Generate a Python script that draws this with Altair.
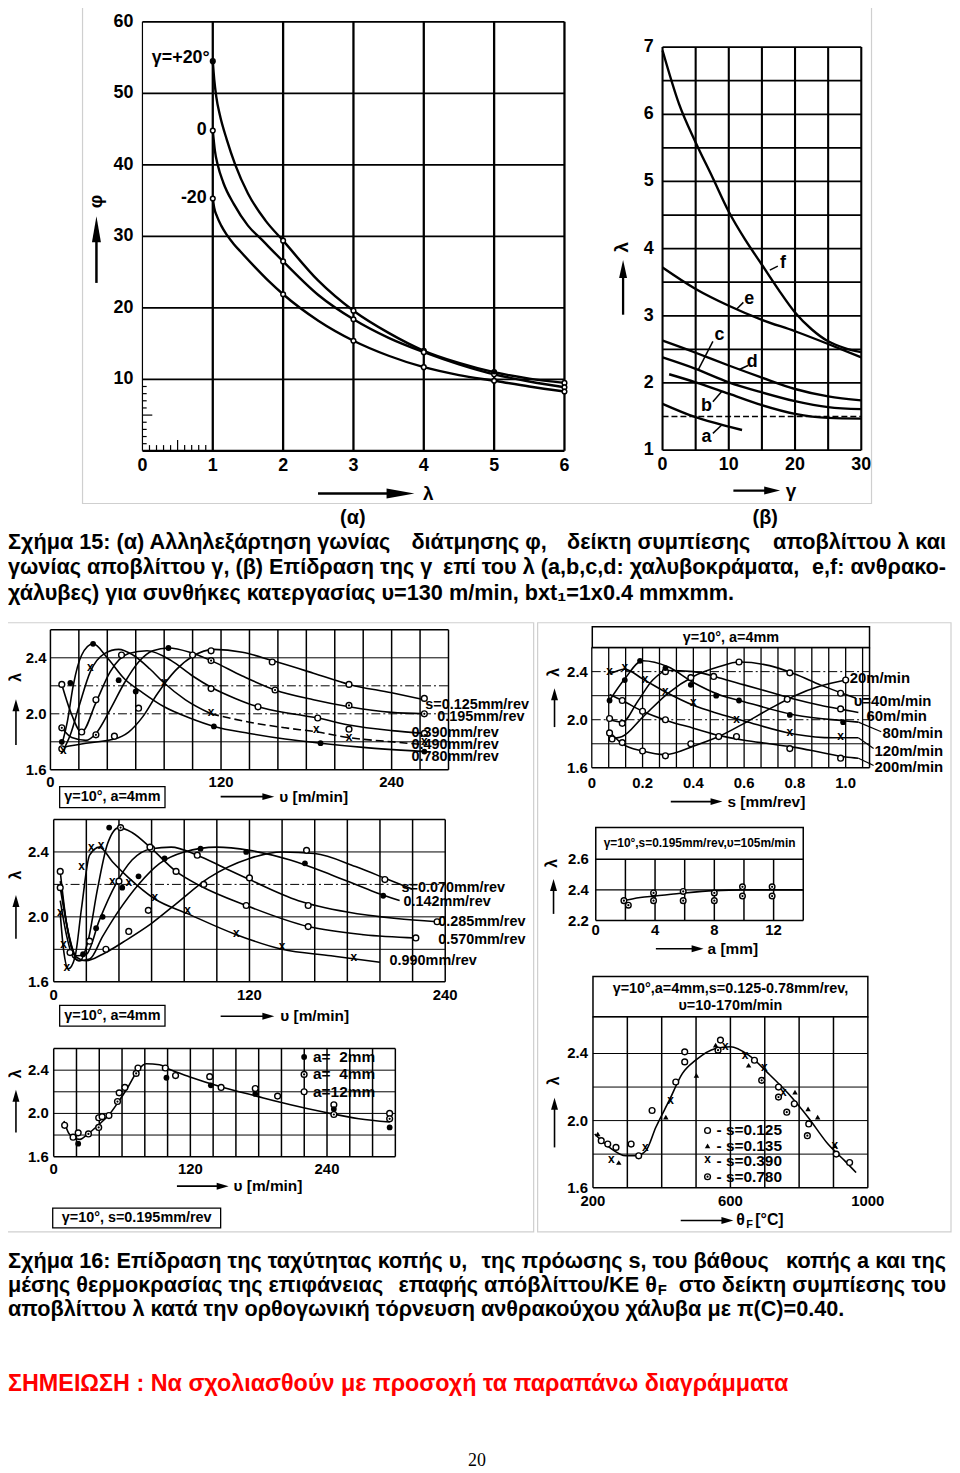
import altair as alt
import pandas as pd

# ===================== DATA =====================
# Fig.15 (α): shear angle φ vs chip compression λ for rake angle γ
A_LAM_P20 = [1.0, 1.02, 1.05, 1.1, 1.2, 1.32, 1.5, 1.75, 2.0, 2.5, 3.0, 3.5, 4.0, 4.5, 5.0, 5.5, 6.0]
A_PHI_P20 = [54.5, 52.0, 49.5, 47.0, 43.5, 40.0, 36.0, 32.2, 29.4, 23.8, 19.6, 16.5, 14.0, 12.3, 11.0, 10.1, 9.5]
A_LAM_0 = [1.0, 1.03, 1.07, 1.15, 1.3, 1.5, 1.7, 2.0, 2.5, 3.0, 3.5, 4.0, 4.5, 5.0, 5.5, 6.0]
A_PHI_0 = [44.8, 42.0, 40.0, 37.5, 34.5, 31.5, 29.5, 26.5, 21.8, 18.4, 15.8, 13.8, 12.1, 10.7, 9.7, 8.9]
A_LAM_M20 = [1.0, 1.02, 1.06, 1.12, 1.2, 1.3, 1.41, 1.6, 1.8, 2.0, 2.5, 3.0, 3.5, 4.0, 4.5, 5.0, 5.5, 6.0]
A_PHI_M20 = [35.3, 34.0, 32.8, 31.5, 30.2, 28.9, 27.7, 25.7, 23.7, 21.9, 18.2, 15.4, 13.3, 11.7, 10.6, 9.8, 9.0, 8.3]
A_MARK_LAM = [1, 2, 3, 4, 5, 6]
A_MARK_P20 = [54.5, 29.4, 19.6, 14.0, 11.0, 9.5]
A_MARK_0 = [44.8, 26.5, 18.4, 13.8, 10.7, 8.9]
A_MARK_M20 = [35.3, 21.9, 15.4, 11.7, 9.8, 8.3]
A_X_TICKS = [0, 1, 2, 3, 4, 5, 6]
A_Y_TICKS = [10, 20, 30, 40, 50, 60]

# Fig.15 (β): λ vs γ for materials a..f
B_GAM = [0, 5, 10, 15, 20, 25, 30]
B_F_GAM = [0, 2.5, 5, 7.5, 10, 12.5, 15, 17.5, 20, 22.5, 25, 27.5, 30]
B_F = [6.95, 6.15, 5.58, 5.07, 4.55, 4.13, 3.76, 3.39, 3.05, 2.80, 2.62, 2.52, 2.46]
B_E = [3.72, 3.40, 3.15, 2.94, 2.77, 2.58, 2.38]
B_D = [2.63, 2.45, 2.26, 2.08, 1.91, 1.80, 1.74]
B_C = [2.38, 2.21, 2.01, 1.86, 1.73, 1.64, 1.61]
B_B_GAM = [1, 5, 10, 15, 20, 25, 30]
B_B = [2.13, 2.01, 1.84, 1.67, 1.54, 1.48, 1.47]
B_A_GAM = [0, 5, 10, 12]
B_A = [1.69, 1.49, 1.35, 1.30]
B_X_TICKS = [0, 10, 20, 30]
B_Y_TICKS = [1, 2, 3, 4, 5, 6, 7]

# Fig.16 panel 1: λ vs υ for feeds s
P1_V125 = [8, 25, 45, 55, 65, 75, 88, 100, 115, 135, 156, 185, 210, 240, 263]
P1_L125 = [1.76, 1.79, 1.82, 1.87, 1.98, 2.14, 2.31, 2.41, 2.46, 2.44, 2.38, 2.29, 2.21, 2.15, 2.10]
P1_V195 = [8, 15, 25, 32, 42, 52, 62, 72, 83, 98, 113, 135, 158, 185, 210, 240, 263]
P1_L195 = [1.90, 1.83, 1.81, 1.86, 2.03, 2.22, 2.37, 2.45, 2.47, 2.44, 2.38, 2.27, 2.17, 2.10, 2.05, 2.01, 2.00]
P1_V390 = [8, 14, 22, 32, 42, 55, 68, 85, 100, 113, 130, 146, 170, 188, 210, 240, 263]
P1_L390 = [2.21, 2.02, 1.87, 2.08, 2.30, 2.43, 2.45, 2.38, 2.27, 2.19, 2.11, 2.05, 2.00, 1.97, 1.92, 1.88, 1.86]
P1_V490 = [8, 14, 20, 28, 38, 48, 58, 70, 80, 95, 113, 140, 165, 188, 210, 240, 263]
P1_L490 = [1.72, 1.85, 2.05, 2.30, 2.43, 2.46, 2.42, 2.32, 2.22, 2.10, 2.00, 1.94, 1.90, 1.87, 1.83, 1.80, 1.78]
P1_V780 = [8, 12, 16, 22, 30, 40, 52, 65, 80, 98, 115, 140, 165, 190, 220, 263]
P1_L780 = [1.78, 1.95, 2.20, 2.42, 2.50, 2.40, 2.25, 2.15, 2.05, 1.97, 1.91, 1.86, 1.82, 1.79, 1.76, 1.73]
P1_OPEN_V = [8, 45, 62, 100, 113, 156, 210, 263, 8, 22, 32, 50, 113, 146, 188, 210, 263]
P1_OPEN_L = [1.75, 1.84, 2.04, 2.42, 2.45, 2.37, 2.21, 2.11, 2.21, 1.87, 2.10, 2.42, 2.18, 2.05, 1.97, 1.89, 1.86]
P1_DOT_V = [8, 32, 113, 158, 210, 263]
P1_DOT_L = [1.90, 1.85, 2.38, 2.17, 2.06, 2.00]
P1_FILL_V = [8, 14, 30, 48, 60, 83, 115, 190, 263]
P1_FILL_L = [1.80, 2.22, 2.50, 2.24, 2.16, 2.47, 1.91, 1.79, 1.73]
P1_X_V = [9, 28, 80, 113, 187, 210, 263]
P1_X_L = [1.73, 2.32, 2.21, 2.00, 1.88, 1.82, 1.79]

# Fig.16 panel 2: λ vs s for cutting speeds υ
P2_S20 = [0.07, 0.12, 0.2, 0.29, 0.4, 0.5, 0.6, 0.7, 0.8, 0.9, 1.0]
P2_L20 = [1.90, 1.80, 1.74, 1.71, 1.78, 1.86, 1.97, 2.09, 2.20, 2.28, 2.33]
P2_S40 = [0.07, 0.12, 0.2, 0.3, 0.4, 0.5, 0.58, 0.7, 0.8, 0.9, 1.0, 1.04]
P2_L40 = [1.84, 1.86, 2.02, 2.22, 2.36, 2.44, 2.48, 2.45, 2.38, 2.29, 2.21, 2.18]
P2_S60 = [0.07, 0.12, 0.18, 0.24, 0.3, 0.4, 0.5, 0.6, 0.7, 0.8, 0.9, 1.0, 1.05]
P2_L60 = [2.00, 1.98, 2.15, 2.33, 2.41, 2.40, 2.35, 2.29, 2.23, 2.17, 2.12, 2.08, 2.06]
P2_S80 = [0.07, 0.13, 0.2, 0.3, 0.4, 0.5, 0.6, 0.8, 1.0, 1.05]
P2_L80 = [2.16, 2.34, 2.49, 2.44, 2.31, 2.21, 2.15, 2.04, 1.99, 1.98]
P2_S120 = [0.07, 0.13, 0.2, 0.3, 0.4, 0.5, 0.6, 0.8, 0.95, 1.05]
P2_L120 = [2.38, 2.42, 2.34, 2.22, 2.12, 2.05, 1.99, 1.88, 1.85, 1.85]
P2_S200 = [0.07, 0.12, 0.2, 0.3, 0.4, 0.5, 0.6, 0.7, 0.8, 0.9, 1.0, 1.05]
P2_L200 = [2.21, 2.16, 2.07, 1.99, 1.93, 1.87, 1.83, 1.80, 1.77, 1.73, 1.69, 1.68]
P2_OPEN_S = [0.07, 0.12, 0.2, 0.29, 0.39, 0.5, 1.0, 0.08, 0.39, 0.58, 0.78, 0.98, 0.07, 0.12, 0.29, 0.48, 0.77,
             0.98, 0.12, 0.2, 0.29, 0.57, 0.78, 0.98]
P2_OPEN_L = [1.89, 1.81, 1.74, 1.70, 1.80, 1.86, 2.33, 1.84, 2.35, 2.48, 2.39, 2.22, 2.01, 1.97, 2.40, 2.36, 2.17,
             2.09, 2.16, 2.07, 2.00, 1.86, 1.76, 1.68]
P2_FILL_S = [0.07, 0.13, 0.19, 0.29, 0.39, 0.49, 0.58, 0.78, 0.99]
P2_FILL_L = [2.16, 2.33, 2.49, 2.43, 2.29, 2.20, 2.16, 2.04, 1.98]
P2_X_S = [0.07, 0.13, 0.21, 0.29, 0.4, 0.57, 0.78, 0.98]
P2_X_L = [2.39, 2.42, 2.32, 2.22, 2.13, 1.99, 1.88, 1.85]

# Fig.16 panel 3: λ vs υ for feeds s
P3_V070 = [4, 8, 13, 20, 30, 45, 60, 75, 95, 120, 140, 160, 185, 205, 220]
P3_L070 = [2.28, 1.95, 1.76, 1.73, 1.77, 1.86, 1.96, 2.08, 2.24, 2.36, 2.40, 2.39, 2.31, 2.23, 2.17]
P3_V142 = [4, 9, 15, 22, 30, 40, 52, 65, 80, 100, 120, 145, 170, 195, 212]
P3_L142 = [2.22, 1.90, 1.73, 1.74, 1.88, 2.04, 2.20, 2.33, 2.40, 2.43, 2.41, 2.35, 2.26, 2.16, 2.10]
P3_V285 = [4, 8, 14, 20, 28, 38, 48, 60, 72, 88, 105, 120, 150, 180, 210, 235]
P3_L285 = [2.18, 1.95, 1.76, 1.77, 1.98, 2.20, 2.35, 2.42, 2.43, 2.38, 2.30, 2.23, 2.10, 2.03, 1.99, 1.97]
P3_V570 = [4, 8, 12, 16, 21, 27, 33, 40, 48, 60, 75, 90, 118, 156, 190, 222]
P3_L570 = [2.10, 1.88, 1.75, 1.73, 1.85, 2.18, 2.45, 2.55, 2.52, 2.42, 2.28, 2.19, 2.07, 1.94, 1.89, 1.87]
P3_V990 = [4, 6, 9, 13, 17, 22, 28, 36, 46, 62, 82, 112, 140, 170, 200]
P3_L990 = [2.02, 1.80, 1.68, 1.75, 2.05, 2.38, 2.43, 2.34, 2.24, 2.11, 2.02, 1.89, 1.80, 1.76, 1.72]
P3_OPEN_V = [4, 10, 32, 46, 58, 155, 203, 4, 22, 40, 60, 88, 120, 156, 235, 59, 75, 92, 118, 156, 222]
P3_OPEN_L = [2.28, 1.78, 1.80, 1.91, 2.04, 2.41, 2.23, 2.18, 1.85, 2.22, 2.42, 2.38, 2.24, 2.07, 1.97, 2.43, 2.28,
             2.20, 2.07, 1.94, 1.87]
P3_FILL_V = [18, 26, 30, 42, 52, 68, 90, 118, 154, 202, 34]
P3_FILL_L = [1.77, 1.93, 2.00, 2.18, 2.25, 2.36, 2.42, 2.40, 2.33, 2.13, 2.55]
P3_X_V = [4, 6, 8, 17, 23, 29, 36, 46, 62, 82, 112, 140, 184]
P3_X_L = [2.02, 1.82, 1.68, 2.30, 2.42, 2.43, 2.21, 2.20, 2.11, 2.03, 1.89, 1.81, 1.74]

# Fig.16 panel 4: λ vs depth of cut a
P4_CA = [1.7, 3, 4, 6, 8, 10, 12, 14]
P4_CL = [2.325, 2.35, 2.36, 2.38, 2.395, 2.40, 2.40, 2.40]
P4_A = [1.9, 2.2, 3.9, 3.9, 5.9, 5.9, 8.0, 8.0, 9.9, 9.9, 11.9, 11.9]
P4_L = [2.33, 2.30, 2.38, 2.33, 2.39, 2.33, 2.38, 2.33, 2.42, 2.36, 2.42, 2.36]

# Fig.16 panel 5: λ vs υ for depths a
P5_V = [9, 13, 18, 23, 30, 40, 48, 57, 65, 74, 81, 93, 101, 119, 149, 178, 208, 238, 268, 295]
P5_L = [1.93, 1.82, 1.77, 1.76, 1.81, 1.90, 1.98, 2.11, 2.24, 2.40, 2.46, 2.45, 2.41, 2.34, 2.24, 2.16, 2.08, 2.01,
        1.95, 1.92]
P5_A2_V = [21.5, 99, 138, 177, 246, 295]
P5_A2_L = [1.72, 2.33, 2.26, 2.18, 2.04, 1.87]
P5_A4_V = [30.5, 39.5, 56, 72.4, 246, 295]
P5_A4_L = [1.81, 1.87, 2.11, 2.37, 1.99, 1.95]
P5_A12_V = [9.6, 17, 21.5, 39.5, 42.5, 48.5, 57.5, 62.5, 74, 98, 107, 137, 147, 177, 196.6, 246, 295]
P5_A12_L = [1.89, 1.78, 1.82, 1.96, 1.97, 1.98, 2.19, 2.24, 2.42, 2.42, 2.35, 2.34, 2.24, 2.23, 2.16, 2.08, 2.00]

# Fig.16 panel 6: λ vs mean interface temperature θF
P6_T = [205, 248, 296, 325, 354, 383, 422, 460, 499, 557, 600, 653, 711, 769, 826, 884, 933, 966]
P6_L = [1.92, 1.84, 1.79, 1.79, 1.82, 1.96, 2.12, 2.28, 2.36, 2.43, 2.44, 2.39, 2.28, 2.16, 2.02, 1.86, 1.76, 1.69]
P6_S125_T = [224, 243, 267, 311, 333, 372, 441, 467, 467, 571, 670, 740, 786, 828, 908, 947]
P6_S125_L = [1.88, 1.86, 1.84, 1.86, 1.79, 2.06, 2.23, 2.41, 2.35, 2.48, 2.36, 2.20, 2.10, 1.98, 1.80, 1.75]
P6_S135_T = [214, 275, 412, 501, 557, 653, 788, 826, 854, 904]
P6_S135_L = [1.92, 1.75, 2.02, 2.27, 2.45, 2.33, 2.17, 2.07, 2.02, 1.85]
P6_S390_T = [253, 352, 426, 585, 643, 699, 754, 904]
P6_S390_L = [1.76, 1.83, 2.11, 2.43, 2.38, 2.31, 2.16, 1.84]
P6_S780_T = [564, 691, 740, 764, 824]
P6_S780_L = [2.42, 2.24, 2.14, 2.05, 1.91]

# ===================== helpers =====================
FONT = "Liberation Sans"
M = 8
layers = []


def panel(x0, x1, px0, px1, y0, y1, py0, py1):
    return dict(xs=alt.Scale(domain=[x0, x1], range=[px0 - M, px1 - M], nice=False, zero=False),
                ys=alt.Scale(domain=[y0, y1], range=[py0 - M, py1 - M], nice=False, zero=False))


def XY(P):
    return dict(x=alt.X("x:Q", scale=P["xs"], axis=None), y=alt.Y("y:Q", scale=P["ys"], axis=None))


def curve(P, xs, ys, w=1.6, dash=None):
    df = pd.DataFrame({"x": xs, "y": ys, "o": list(range(len(xs)))})
    kw = dict(color="black", strokeWidth=w, interpolate="monotone")
    if dash:
        kw["strokeDash"] = dash
    layers.append(alt.Chart(df).mark_line(**kw).encode(order="o:Q", **XY(P)))


def vgrid(P, xs, y0, y1, w=1.2, dash=None, color="black"):
    xs = list(xs)
    df = pd.DataFrame({"x": xs, "y": [y0] * len(xs), "y2": [y1] * len(xs)})
    kw = dict(color=color, strokeWidth=w)
    if dash:
        kw["strokeDash"] = dash
    layers.append(alt.Chart(df).mark_rule(**kw).encode(y2="y2:Q", **XY(P)))


def hgrid(P, ys, x0, x1, w=1.0, dash=None, color="black"):
    ys = list(ys)
    df = pd.DataFrame({"y": ys, "x": [x0] * len(ys), "x2": [x1] * len(ys)})
    kw = dict(color=color, strokeWidth=w)
    if dash:
        kw["strokeDash"] = dash
    layers.append(alt.Chart(df).mark_rule(**kw).encode(x2="x2:Q", **XY(P)))


def segs(P, rows, w=1.2, color="black"):
    df = pd.DataFrame(rows, columns=["x", "y", "x2", "y2"])
    layers.append(alt.Chart(df).mark_rule(color=color, strokeWidth=w).encode(x2="x2:Q", y2="y2:Q", **XY(P)))


def rects(P, rows, stroke="black", w=1.4, fill="white", fop=1.0):
    df = pd.DataFrame(rows, columns=["x", "y", "x2", "y2"])
    layers.append(alt.Chart(df).mark_rect(fill=fill, fillOpacity=fop, stroke=stroke, strokeWidth=w)
                  .encode(x2="x2:Q", y2="y2:Q", **XY(P)))


def pts(P, xs, ys, kind, size=34, sw=1.4):
    base = alt.Chart(pd.DataFrame({"x": xs, "y": ys}))
    if kind in ("open", "dot"):
        layers.append(base.mark_point(shape="circle", filled=True, fill="white", stroke="black",
                                      strokeWidth=sw, size=size, opacity=1).encode(**XY(P)))
        if kind == "dot":
            layers.append(base.mark_point(shape="circle", filled=True, color="black", size=5,
                                          opacity=1).encode(**XY(P)))
    elif kind == "filled":
        layers.append(base.mark_point(shape="circle", filled=True, color="black", size=size,
                                      opacity=1).encode(**XY(P)))
    elif kind == "tri":
        layers.append(base.mark_point(shape="triangle-up", filled=True, color="black", size=size,
                                      opacity=1).encode(**XY(P)))
    elif kind == "x":
        layers.append(base.mark_text(text="x", font=FONT, fontSize=12, fontWeight="bold", color="black",
                                     dy=-2).encode(**XY(P)))


def text(P, xs, ys, ts, size=15, align="center", dx=0, dy=0, angle=0, weight="bold",
         color="black", font=FONT):
    df = pd.DataFrame({"x": xs, "y": ys, "t": ts})
    kw = dict(font=font, fontSize=size, fontWeight=weight, align=align, baseline="middle",
              dx=dx, dy=dy, color=color)
    if angle:
        kw["angle"] = angle
    layers.append(alt.Chart(df).mark_text(**kw).encode(text="t:N", **XY(P)))


def ptext(rows, align="left", **kw):
    text(PAGE, [r[0] for r in rows], [r[1] for r in rows], [r[2] for r in rows], align=align, **kw)


def head(x, y, L, Wd, up):
    k = round(Wd / L, 3)
    path = f"M0,-1L{-k},1L{k},1Z" if up else f"M1,0L-1,{-k}L-1,{k}Z"
    df = pd.DataFrame({"x": [x], "y": [y]})
    layers.append(alt.Chart(df).mark_point(shape=path, filled=True, color="black", size=L * L,
                                           opacity=1).encode(**XY(PAGE)))


def arrow_up(x, ybot, ytip, L=12, Wd=7, w=1.6):
    segs(PAGE, [(x, ybot, x, ytip + L * 0.8)], w=w)
    head(x, ytip + L / 2, L, Wd, True)


def arrow_right(y, xl, xtip, L=12, Wd=7, w=1.6):
    segs(PAGE, [(xl, y, xtip - L * 0.8, y)], w=w)
    head(xtip - L / 2, y, L, Wd, False)


# ===================== panels (page pixel placement) =====================
PAGE = panel(0, 1000, 0, 1000, 0, 1000, 0, 1000)
PA = panel(0, 6, 143.3, 568, 0, 60, 449, 17.3)
PB = panel(0, 30, 666.7, 866.7, 1, 7, 448.3, 42.7)
P1 = panel(0, 280, 50.7, 451.3, 1.6, 2.6, 770, 629.1)
P2 = panel(0, 1.0, 595.5, 851, 1.6, 2.6, 768, 647)
P3 = panel(0, 240, 54, 448, 1.6, 2.6, 983.3, 820)
P4 = panel(0, 14, 599.5, 808.3, 2.2, 2.6, 921.7, 860)
P5 = panel(0, 300, 54, 397.8, 1.6, 2.6, 1159.3, 1050.5)
P6 = panel(200, 1000, 596.7, 873.3, 1.6, 2.4, 1190.5, 1055.5)

# scan frames
rects(PAGE, [(83, 1, 877, 502), (1, 622, 537, 1235), (541, 622, 957, 1235)], stroke="#cfcfcf", w=1.2, fop=0)

# ---------- Fig.15 (α) ----------
vgrid(PA, [1, 2, 3, 4, 5, 6], 0, 60, w=2.3)
vgrid(PA, [0], 0, 60, w=1.2)
hgrid(PA, [10, 20, 30, 40, 50, 60], 0, 6, w=1.8)
hgrid(PA, [0], 0, 6, w=2.3)
vgrid(PA, [0.1, 0.2, 0.3, 0.4, 0.6, 0.7, 0.8, 0.9], 0, 0.8, w=1.2)
vgrid(PA, [0.5], 0, 1.5, w=1.2)
hgrid(PA, [1, 2, 3, 4, 6, 7, 8, 9], 0, 0.06, w=1.2)
hgrid(PA, [5], 0, 0.14, w=1.2)
curve(PA, A_LAM_P20, A_PHI_P20, w=2.4)
curve(PA, A_LAM_0, A_PHI_0, w=2.4)
curve(PA, A_LAM_M20, A_PHI_M20, w=2.4)
pts(PA, A_MARK_LAM, A_MARK_P20, "open", size=22, sw=1.5)
pts(PA, A_MARK_LAM, A_MARK_0, "open", size=22, sw=1.5)
pts(PA, A_MARK_LAM, A_MARK_M20, "open", size=22, sw=1.5)
pts(PA, [1, 5], [54.5, 11.0], "filled", size=20)
text(PA, [0] * 6, A_Y_TICKS, [str(v) for v in A_Y_TICKS], size=18, align="right", dx=-9)
text(PA, A_X_TICKS, [0] * 7, [str(v) for v in A_X_TICKS], size=18, dy=15)
ptext([(211, 53.5, "γ=+20°"), (208, 126.5, "0"), (208, 195, "-20")], size=18, align="right")
ptext([(97, 198, "φ")], size=19, angle=270, align="center")
arrow_up(97, 280, 213, L=26, Wd=9, w=2.5)
ptext([(431, 492, "λ")], size=19, align="center")
arrow_right(492, 320, 417, L=28, Wd=10, w=2.5)

# ---------- Fig.15 (β) ----------
vgrid(PB, B_GAM, 1, 7, w=2.1)
hgrid(PB, [1, 2, 2.5, 3, 3.5, 4, 4.5, 5, 5.5, 6, 6.5, 7], 0, 30, w=1.8)
hgrid(PB, [1.5], 0, 30, w=1.6, dash=[6, 3])
curve(PB, B_F_GAM, B_F, w=2.4)
curve(PB, B_GAM, B_E, w=2.4)
curve(PB, B_GAM, B_D, w=2.4)
curve(PB, B_GAM, B_C, w=2.4)
curve(PB, B_B_GAM, B_B, w=2.4)
curve(PB, B_A_GAM, B_A, w=2.4)
segs(PB, [(17.4, 3.74, 16.2, 3.68), (12.2, 3.20, 11.2, 3.10), (7.6, 2.62, 5.4, 2.20),
          (12.9, 2.26, 11.6, 2.20), (7.6, 1.72, 8.9, 1.87), (7.6, 1.25, 8.9, 1.37)], w=1.5)
text(PB, [0] * 7, B_Y_TICKS, [str(v) for v in B_Y_TICKS], size=18, align="right", dx=-9)
text(PB, B_X_TICKS, [1] * 4, [str(v) for v in B_X_TICKS], size=18, dy=15)
ptext([(788, 260, "f"), (754, 296, "e"), (724, 332, "c"), (757, 360, "d"), (711, 404, "b"),
       (711, 435, "a")], size=18, align="center")
ptext([(626, 244, "λ")], size=19, angle=270, align="center")
arrow_up(627, 312, 257, L=18, Wd=8, w=2.3)
ptext([(796, 489, "γ")], size=19, align="center")
arrow_right(489, 738, 785, L=16, Wd=8, w=2.3)
ptext([(355, 517, "(α)"), (770, 517, "(β)")], size=20, align="center")

# ---------- Fig.16 panel 1 ----------
vgrid(P1, range(0, 281, 20), 1.6, 2.6, w=1.5)
hgrid(P1, [1.6, 2.6], 0, 280, w=1.5)
hgrid(P1, [1.8, 2.4], 0, 280, w=1.0)
hgrid(P1, [2.0, 2.2], 0, 280, w=1.0, dash=[9, 3, 2, 3])
curve(P1, P1_V125, P1_L125)
curve(P1, P1_V195, P1_L195)
curve(P1, P1_V390, P1_L390)
curve(P1, P1_V490[:11], P1_L490[:11])
curve(P1, P1_V490[10:], P1_L490[10:], dash=[8, 4])
curve(P1, P1_V780, P1_L780)
pts(P1, P1_OPEN_V, P1_OPEN_L, "open")
pts(P1, P1_DOT_V, P1_DOT_L, "dot")
pts(P1, P1_FILL_V, P1_FILL_L, "filled")
pts(P1, P1_X_V, P1_X_L, "x")
text(P1, [0] * 3, [1.6, 2.0, 2.4], ["1.6", "2.0", "2.4"], align="right", dx=-4)
text(P1, [0, 120, 240], [1.6] * 3, ["0", "120", "240"], dy=12)
ptext([(428, 705, "s=0.125mm/rev"), (440, 716.5, "0.195mm/rev"), (414, 733.3, "0.390mm/rev"),
       (414, 745, "0.490mm/rev"), (414, 757.5, "0.780mm/rev")], size=14.5)
rects(PAGE, [(60, 787, 166, 808)], w=1.3)
ptext([(113, 797.5, "γ=10°, a=4mm")], size=14.5, align="center")
ptext([(16, 677, "λ")], size=16, angle=270, align="center")
arrow_up(16, 745, 699)
arrow_right(797, 222, 276)
ptext([(281, 797, "υ [m/min]")], size=15.5)

# ---------- Fig.16 panel 2 ----------
vgrid(P2, [k / 15 for k in range(17)], 1.6, 2.6, w=1.3)
vgrid(P2, [1.094], 1.6, 2.6, w=1.5)
hgrid(P2, [1.6, 2.6], 0, 1.094, w=1.5)
hgrid(P2, [1.8, 2.2], 0, 1.094, w=1.0)
hgrid(P2, [2.0, 2.4], 0, 1.094, w=1.0, dash=[9, 3, 2, 3])
curve(P2, P2_S20, P2_L20)
curve(P2, P2_S40, P2_L40)
curve(P2, P2_S60, P2_L60)
curve(P2, P2_S80, P2_L80)
curve(P2, P2_S120, P2_L120)
curve(P2, P2_S200, P2_L200)
segs(P2, [(1.05, 1.98, 1.14, 1.90), (1.05, 1.85, 1.11, 1.76), (1.05, 1.68, 1.11, 1.62)], w=1.2)
pts(P2, P2_OPEN_S, P2_OPEN_L, "open")
pts(P2, P2_FILL_S, P2_FILL_L, "filled")
pts(P2, P2_X_S, P2_X_L, "x")
text(P2, [0] * 3, [1.6, 2.0, 2.4], ["1.6", "2.0", "2.4"], align="right", dx=-4)
text(P2, [0, 0.2, 0.4, 0.6, 0.8, 1.0], [1.6] * 6, ["0", "0.2", "0.4", "0.6", "0.8", "1.0"], dy=15)
ptext([(855, 678, "20m/min"), (859, 701, "υ=40m/min"), (872, 716, "60m/min"), (888, 733, "80m/min"),
       (880, 751, "120m/min"), (880, 767, "200m/min")], size=15)
rects(PAGE, [(596, 626, 875, 647)], w=1.5)
ptext([(735.5, 637, "γ=10°, a=4mm")], size=14.5, align="center")
ptext([(557, 672, "λ")], size=16, angle=270, align="center")
arrow_up(558, 727, 688)
arrow_right(802, 675, 727)
ptext([(732, 802, "s [mm/rev]")], size=15.5)

# ---------- Fig.16 panel 3 ----------
vgrid(P3, range(0, 241, 20), 1.6, 2.6, w=1.5)
hgrid(P3, [1.6, 2.6], 0, 240, w=1.5)
hgrid(P3, [1.8, 2.0, 2.4], 0, 240, w=1.0)
hgrid(P3, [2.2], 0, 240, w=1.0, dash=[9, 3, 2, 3])
curve(P3, P3_V070, P3_L070)
curve(P3, P3_V142, P3_L142)
curve(P3, P3_V285, P3_L285)
curve(P3, P3_V570, P3_L570)
curve(P3, P3_V990, P3_L990)
pts(P3, P3_OPEN_V, P3_OPEN_L, "open")
pts(P3, P3_FILL_V, P3_FILL_L, "filled")
pts(P3, [41], [2.55], "dot")
pts(P3, P3_X_V, P3_X_L, "x")
text(P3, [0] * 3, [1.6, 2.0, 2.4], ["1.6", "2.0", "2.4"], align="right", dx=-5)
text(P3, [0, 120, 240], [1.6] * 3, ["0", "120", "240"], dy=13)
ptext([(404, 889, "s=0.070mm/rev"), (406, 903.5, "0.142mm/rev"), (441, 923, "0.285mm/rev"),
       (441, 941, "0.570mm/rev"), (392, 962, "0.990mm/rev")], size=14.5)
rects(PAGE, [(60, 1007, 166, 1028)], w=1.3)
ptext([(113, 1017.5, "γ=10°, a=4mm")], size=14.5, align="center")
ptext([(16, 876, "λ")], size=16, angle=270, align="center")
arrow_up(16, 940, 896)
arrow_right(1018, 222, 276)
ptext([(282, 1018, "υ [m/min]")], size=15.5)

# ---------- Fig.16 panel 4 ----------
vgrid(P4, range(0, 15, 2), 2.2, 2.6, w=1.5)
hgrid(P4, [2.2, 2.6], 0, 14, w=1.5)
hgrid(P4, [2.4], 0, 14, w=1.2)
curve(P4, P4_CA, P4_CL)
pts(P4, P4_A, P4_L, "dot", size=32)
text(P4, [0] * 3, [2.2, 2.4, 2.6], ["2.2", "2.4", "2.6"], align="right", dx=-7)
text(P4, [0, 4, 8, 12], [2.2] * 4, ["0", "4", "8", "12"], dy=10)
rects(PAGE, [(599.5, 828, 808.3, 860)], w=1.5)
ptext([(704, 844, "γ=10°,s=0.195mm/rev,υ=105m/min")], size=12, align="center")
ptext([(555, 864, "λ")], size=16, angle=270, align="center")
arrow_up(557, 915, 880)
arrow_right(950, 660, 708)
ptext([(712, 950, "a [mm]")], size=15.5)

# ---------- Fig.16 panel 5 ----------
vgrid(P5, range(0, 301, 20), 1.6, 2.6, w=1.5)
hgrid(P5, [1.6, 2.6], 0, 300, w=1.5)
hgrid(P5, [1.8, 2.0, 2.2, 2.4], 0, 300, w=1.0)
curve(P5, P5_V, P5_L)
pts(P5, P5_A12_V, P5_A12_L, "open")
pts(P5, P5_A4_V, P5_A4_L, "dot")
pts(P5, P5_A2_V, P5_A2_L, "filled")
text(P5, [0] * 3, [1.6, 2.0, 2.4], ["1.6", "2.0", "2.4"], align="right", dx=-5)
text(P5, [0, 120, 240], [1.6] * 3, ["0", "120", "240"], dy=12)
pts(PAGE, [306], [1059], "filled")
pts(PAGE, [306], [1076.5], "dot")
pts(PAGE, [306], [1094], "open")
ptext([(315, 1059, "a=\u00a0\u00a02mm"), (315, 1076.5, "a=\u00a0\u00a04mm"), (315, 1094, "a=12mm")],
      size=15.5)
rects(PAGE, [(53, 1211, 222, 1231)], w=1.3)
ptext([(137.5, 1221, "γ=10°, s=0.195mm/rev")], size=14.5, align="center")
ptext([(16, 1076, "λ")], size=16, angle=270, align="center")
arrow_up(16, 1135, 1092)
arrow_right(1189, 178, 230)
ptext([(235, 1189, "υ [m/min]")], size=15.5)

# ---------- Fig.16 panel 6 ----------
vgrid(P6, range(200, 1001, 100), 1.6, 2.62, w=1.5)
hgrid(P6, [1.6, 2.62], 200, 1000, w=1.5)
hgrid(P6, [1.8, 2.0, 2.2, 2.4], 200, 1000, w=1.0)
curve(P6, P6_T, P6_L)
pts(P6, P6_S125_T, P6_S125_L, "open")
pts(P6, P6_S135_T, P6_S135_L, "tri", size=30)
pts(P6, P6_S390_T, P6_S390_L, "x")
pts(P6, P6_S780_T, P6_S780_L, "dot")
text(P6, [200] * 3, [1.6, 2.0, 2.4], ["1.6", "2.0", "2.4"], align="right", dx=-5)
text(P6, [200, 600, 1000], [1.6] * 3, ["200", "600", "1000"], dy=13)
rects(PAGE, [(596.7, 978, 873.3, 1018.4)], w=1.5)
ptext([(735, 991, "γ=10°,a=4mm,s=0.125-0.78mm/rev,"), (735, 1008, "υ=10-170m/min")], size=14.5,
      align="center")
pts(PAGE, [712], [1133], "open")
pts(PAGE, [712], [1148.5], "tri", size=30)
pts(PAGE, [712], [1164], "x")
pts(PAGE, [712], [1179.5], "dot")
ptext([(721, 1133, "- s=0.125"), (721, 1148.5, "- s=0.135"), (721, 1164, "- s=0.390"),
       (721, 1179.5, "- s=0.780")], size=15.5)
ptext([(557, 1083, "λ")], size=16, angle=270, align="center")
arrow_up(558, 1150, 1100)
arrow_right(1223.5, 685, 738)
ptext([(741, 1223.5, "θ"), (760, 1223.5, "[°C]")], size=16)
ptext([(751, 1228, "F")], size=11)

# ---------- captions ----------
CAP = 21.8
ptext([(8, 541, "Σχήμα 15: (α) Αλληλεξάρτηση γωνίας"), (414, 541, "διάτμησης φ,"),
       (8, 566, "γωνίας αποβλίττου γ, (β) Επίδραση της γ"),
       (8, 592, "χάλυβες) για συνθήκες κατεργασίας υ=130 m/min, bxt₁=1x0.4 mmxmm."),
       (8, 1264, "Σχήμα 16: Επίδραση της ταχύτητας κοπής υ,"), (8, 1289, "μέσης θερμοκρασίας της επιφάνειας"),
       (8, 1313, "αποβλίττου λ κατά την ορθογωνική τόρνευση ανθρακούχου χάλυβα με π(C)=0.40.")], size=CAP)
ptext([(625, 566, "επί του λ (a,b,c,d: χαλυβοκράματα,"), (629, 1264, "της πρόωσης s, του βάθους")],
      size=CAP, align="center")
ptext([(755, 541, "δείκτη συμπίεσης"), (952, 541, "αποβλίττου λ και"), (952, 566, "e,f: ανθρακο-"),
       (952, 1264, "κοπής a και της"), (661, 1289, "επαφής απόβλίττου/ΚΕ θ"),
       (952, 1289, "στο δείκτη συμπίεσης του")], size=CAP, align="right")
ptext([(662, 1294, "F")], size=15)
ptext([(8, 1388, "ΣΗΜΕΙΩΣΗ : Να σχολιασθούν με προσοχή τα παραπάνω διαγράμματα")], size=23.5,
      color="#ff0000")
ptext([(480, 1466, "20")], size=18, align="center", weight="normal", font="Liberation Serif")

chart = (alt.layer(*layers)
         .resolve_scale(x="independent", y="independent")
         .properties(width=950, height=1465, padding=0, background="white",
                     autosize=alt.AutoSizeParams(type="none"))
         .configure_view(stroke=None))

chart.save("out.html", embed_options={"renderer": "svg", "actions": False})
